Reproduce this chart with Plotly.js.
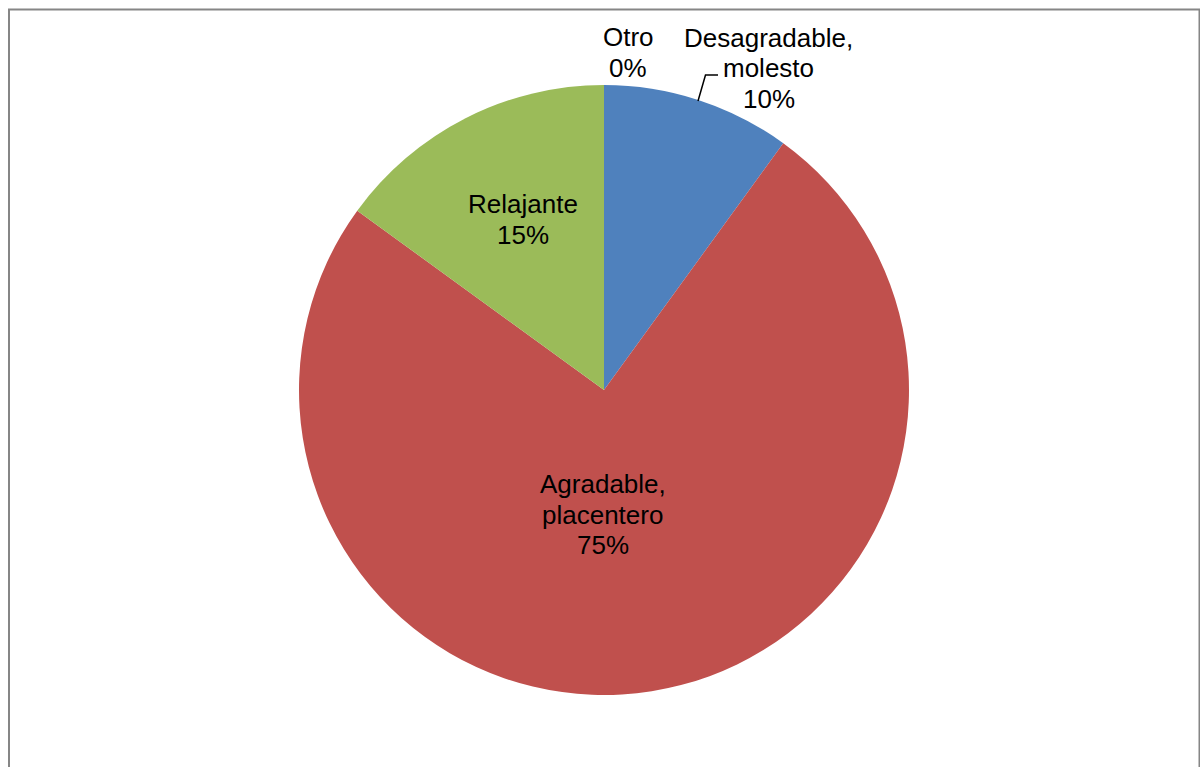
<!DOCTYPE html>
<html>
<head>
<meta charset="utf-8">
<script src="https://cdn.plot.ly/plotly-3.0.1.min.js"></script>
<style>
  html, body { margin: 0; padding: 0; background: #ffffff; }
  #chart { width: 1200px; height: 767px; }
</style>
</head>
<body>
<div id="chart"></div>
<script>
// ---- data ----
var categories = ["Desagradable,<br>molesto", "Agradable,<br>placentero", "Relajante", "Otro"];
var percentages = [10, 75, 15, 0];
var sliceColors = ["#4F81BD", "#C0504D", "#9BBB59", "#8064A2"];

// ---- layout helpers ----
var W = 1200, H = 767;
function px(x) { return x / W; }
function py(y) { return 1 - y / H; }

// label anchor points (pixel centre of the label's first line)
var labelPos = [
  {x: 768.5, y: 38},   // Desagradable
  {x: 603,   y: 484},  // Agradable
  {x: 522.5, y: 204},  // Relajante
  {x: 628,   y: 37.5}  // Otro
];
var lineStep = 30.5;

var annotations = [];
categories.forEach(function (c, i) {
  var lines = (c + "<br>" + percentages[i] + "%").split("<br>");
  lines.forEach(function (t, k) {
    annotations.push({
      xref: "paper", yref: "paper",
      x: px(labelPos[i].x), y: py(labelPos[i].y + k * lineStep),
      xanchor: "center", yanchor: "middle",
      text: t,
      showarrow: false,
      align: "center",
      font: {family: "Liberation Sans, Arial, sans-serif", size: 26, color: "#000000"}
    });
  });
});

var trace = {
  type: "pie",
  labels: categories,
  values: percentages,
  sort: false,
  direction: "clockwise",
  rotation: 0,
  textinfo: "none",
  hoverinfo: "label+percent",
  marker: {colors: sliceColors, line: {width: 0}},
  domain: {x: [px(299), px(909)], y: [py(695), py(85)]},
  showlegend: false
};

var layout = {
  width: W, height: H,
  margin: {l: 0, r: 0, t: 0, b: 0},
  paper_bgcolor: "#ffffff",
  plot_bgcolor: "#ffffff",
  showlegend: false,
  annotations: annotations,
  shapes: [
    {
      type: "rect", xref: "paper", yref: "paper",
      x0: px(9), x1: px(1199.5), y0: py(800), y1: py(9.5),
      line: {color: "#868686", width: 2},
      fillcolor: "rgba(0,0,0,0)"
    },
    {
      type: "path", xref: "paper", yref: "paper",
      path: "M " + px(698) + " " + py(101) + " L " + px(705.5) + " " + py(75) + " L " + px(718) + " " + py(75),
      line: {color: "#000000", width: 1.5}
    }
  ]
};

Plotly.newPlot("chart", [trace], layout, {displayModeBar: false, staticPlot: true});
</script>
</body>
</html>
